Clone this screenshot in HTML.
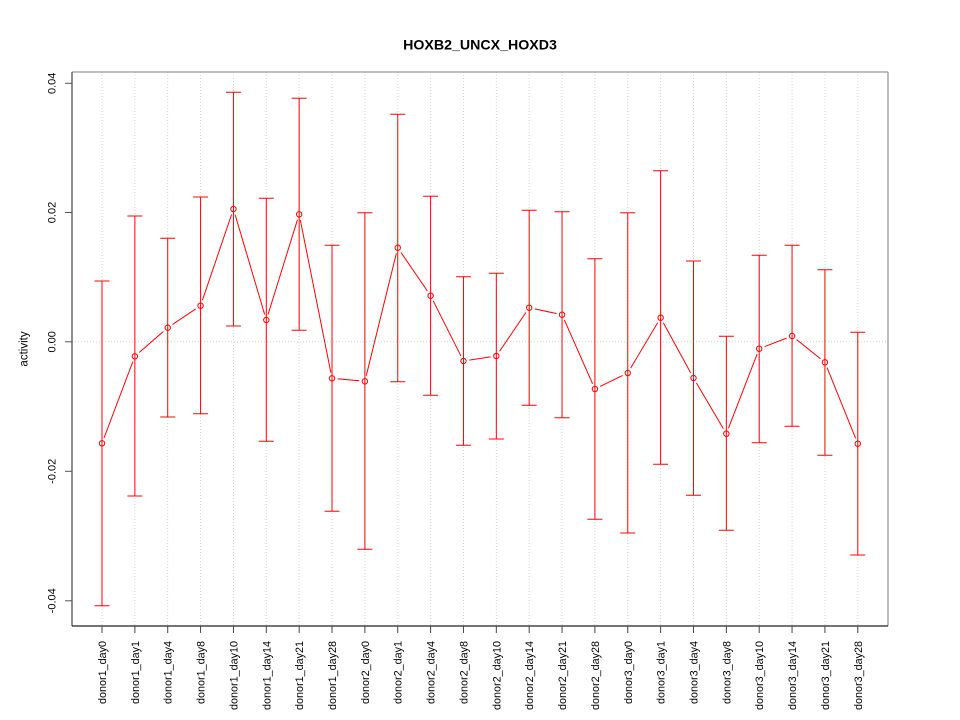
<!DOCTYPE html>
<html>
<head>
<meta charset="utf-8">
<style>
html,body{margin:0;padding:0;background:#fff;}
svg{display:block;}
text{font-family:"Liberation Sans", Arial, sans-serif;fill:#000;}
</style>
</head>
<body>
<svg width="960" height="720" viewBox="0 0 960 720" xmlns="http://www.w3.org/2000/svg">
<defs>
<mask id="gapmask" maskUnits="userSpaceOnUse" x="0" y="0" width="960" height="720">
<rect x="0" y="0" width="960" height="720" fill="#fff"/>
<g fill="#000">
<circle cx="102" cy="443.3" r="5.8"/>
<circle cx="134.86" cy="356.3" r="5.8"/>
<circle cx="167.72" cy="327.7" r="5.8"/>
<circle cx="200.58" cy="305.7" r="5.8"/>
<circle cx="233.44" cy="209" r="5.8"/>
<circle cx="266.3" cy="320" r="5.8"/>
<circle cx="299.16" cy="214.3" r="5.8"/>
<circle cx="332.02" cy="378.3" r="5.8"/>
<circle cx="364.88" cy="381.3" r="5.8"/>
<circle cx="397.74" cy="247.7" r="5.8"/>
<circle cx="430.6" cy="295.7" r="5.8"/>
<circle cx="463.46" cy="361" r="5.8"/>
<circle cx="496.32" cy="356" r="5.8"/>
<circle cx="529.18" cy="307.7" r="5.8"/>
<circle cx="562.04" cy="314.7" r="5.8"/>
<circle cx="594.9" cy="389" r="5.8"/>
<circle cx="627.76" cy="373" r="5.8"/>
<circle cx="660.62" cy="317.7" r="5.8"/>
<circle cx="693.48" cy="378" r="5.8"/>
<circle cx="726.34" cy="433.7" r="5.8"/>
<circle cx="759.2" cy="348.7" r="5.8"/>
<circle cx="792.06" cy="336" r="5.8"/>
<circle cx="824.92" cy="362.3" r="5.8"/>
<circle cx="857.78" cy="443.7" r="5.8"/>
</g>
</mask>
</defs>

<!-- grid -->
<g stroke="#d3d3d3" stroke-width="1" stroke-dasharray="1,2" fill="none">
<line x1="102" y1="72" x2="102" y2="626"/>
<line x1="134.86" y1="72" x2="134.86" y2="626"/>
<line x1="167.72" y1="72" x2="167.72" y2="626"/>
<line x1="200.58" y1="72" x2="200.58" y2="626"/>
<line x1="233.44" y1="72" x2="233.44" y2="626"/>
<line x1="266.3" y1="72" x2="266.3" y2="626"/>
<line x1="299.16" y1="72" x2="299.16" y2="626"/>
<line x1="332.02" y1="72" x2="332.02" y2="626"/>
<line x1="364.88" y1="72" x2="364.88" y2="626"/>
<line x1="397.74" y1="72" x2="397.74" y2="626"/>
<line x1="430.6" y1="72" x2="430.6" y2="626"/>
<line x1="463.46" y1="72" x2="463.46" y2="626"/>
<line x1="496.32" y1="72" x2="496.32" y2="626"/>
<line x1="529.18" y1="72" x2="529.18" y2="626"/>
<line x1="562.04" y1="72" x2="562.04" y2="626"/>
<line x1="594.9" y1="72" x2="594.9" y2="626"/>
<line x1="627.76" y1="72" x2="627.76" y2="626"/>
<line x1="660.62" y1="72" x2="660.62" y2="626"/>
<line x1="693.48" y1="72" x2="693.48" y2="626"/>
<line x1="726.34" y1="72" x2="726.34" y2="626"/>
<line x1="759.2" y1="72" x2="759.2" y2="626"/>
<line x1="792.06" y1="72" x2="792.06" y2="626"/>
<line x1="824.92" y1="72" x2="824.92" y2="626"/>
<line x1="857.78" y1="72" x2="857.78" y2="626"/>
<line x1="72" y1="341.8" x2="888" y2="341.8"/>
</g>

<!-- error bars -->
<g stroke="#ff0000" stroke-width="1" fill="none">
<path d="M102 281V605.7M94.5 281H109.5M94.5 605.7H109.5"/>
<path d="M134.86 216V496M127.36 216H142.36M127.36 496H142.36"/>
<path d="M167.72 238.3V417M160.22 238.3H175.22M160.22 417H175.22"/>
<path d="M200.58 197V413.7M193.08 197H208.08M193.08 413.7H208.08"/>
<path d="M233.44 92.3V326M225.94 92.3H240.94M225.94 326H240.94"/>
<path d="M266.3 198.3V441.3M258.8 198.3H273.8M258.8 441.3H273.8"/>
<path d="M299.16 98.3V330.3M291.66 98.3H306.66M291.66 330.3H306.66"/>
<path d="M332.02 245.3V511.3M324.52 245.3H339.52M324.52 511.3H339.52"/>
<path d="M364.88 212.7V549.3M357.38 212.7H372.38M357.38 549.3H372.38"/>
<path d="M397.74 114.3V381.7M390.24 114.3H405.24M390.24 381.7H405.24"/>
<path d="M430.6 196.3V395.3M423.1 196.3H438.1M423.1 395.3H438.1"/>
<path d="M463.46 276.7V445.3M455.96 276.7H470.96M455.96 445.3H470.96"/>
<path d="M496.32 273.3V439M488.82 273.3H503.82M488.82 439H503.82"/>
<path d="M529.18 210.3V405.3M521.68 210.3H536.68M521.68 405.3H536.68"/>
<path d="M562.04 211.7V417.7M554.54 211.7H569.54M554.54 417.7H569.54"/>
<path d="M594.9 258.7V519.3M587.4 258.7H602.4M587.4 519.3H602.4"/>
<path d="M627.76 212.7V533M620.26 212.7H635.26M620.26 533H635.26"/>
<path d="M660.62 170.7V464.3M653.12 170.7H668.12M653.12 464.3H668.12"/>
<path d="M693.48 261V495.3M685.98 261H700.98M685.98 495.3H700.98"/>
<path d="M726.34 336.3V530.3M718.84 336.3H733.84M718.84 530.3H733.84"/>
<path d="M759.2 255.3V442.7M751.7 255.3H766.7M751.7 442.7H766.7"/>
<path d="M792.06 245.3V426.3M784.56 245.3H799.56M784.56 426.3H799.56"/>
<path d="M824.92 269.7V455.3M817.42 269.7H832.42M817.42 455.3H832.42"/>
<path d="M857.78 332.3V555M850.28 332.3H865.28M850.28 555H865.28"/>
</g>

<!-- connecting line with gaps -->
<polyline mask="url(#gapmask)" fill="none" stroke="#ff0000" stroke-width="1"
points="102,443.3 134.86,356.3 167.72,327.7 200.58,305.7 233.44,209 266.3,320 299.16,214.3 332.02,378.3 364.88,381.3 397.74,247.7 430.6,295.7 463.46,361 496.32,356 529.18,307.7 562.04,314.7 594.9,389 627.76,373 660.62,317.7 693.48,378 726.34,433.7 759.2,348.7 792.06,336 824.92,362.3 857.78,443.7"/>

<!-- points -->
<g fill="none" stroke="#ff0000" stroke-width="1">
<circle cx="102" cy="443.3" r="2.7"/>
<circle cx="134.86" cy="356.3" r="2.7"/>
<circle cx="167.72" cy="327.7" r="2.7"/>
<circle cx="200.58" cy="305.7" r="2.7"/>
<circle cx="233.44" cy="209" r="2.7"/>
<circle cx="266.3" cy="320" r="2.7"/>
<circle cx="299.16" cy="214.3" r="2.7"/>
<circle cx="332.02" cy="378.3" r="2.7"/>
<circle cx="364.88" cy="381.3" r="2.7"/>
<circle cx="397.74" cy="247.7" r="2.7"/>
<circle cx="430.6" cy="295.7" r="2.7"/>
<circle cx="463.46" cy="361" r="2.7"/>
<circle cx="496.32" cy="356" r="2.7"/>
<circle cx="529.18" cy="307.7" r="2.7"/>
<circle cx="562.04" cy="314.7" r="2.7"/>
<circle cx="594.9" cy="389" r="2.7"/>
<circle cx="627.76" cy="373" r="2.7"/>
<circle cx="660.62" cy="317.7" r="2.7"/>
<circle cx="693.48" cy="378" r="2.7"/>
<circle cx="726.34" cy="433.7" r="2.7"/>
<circle cx="759.2" cy="348.7" r="2.7"/>
<circle cx="792.06" cy="336" r="2.7"/>
<circle cx="824.92" cy="362.3" r="2.7"/>
<circle cx="857.78" cy="443.7" r="2.7"/>
</g>

<!-- box -->
<line x1="72" y1="72" x2="888" y2="72" stroke="#999" stroke-width="1.3"/>
<line x1="888" y1="72" x2="888" y2="626" stroke="#999" stroke-width="1.3"/>
<line x1="72" y1="72" x2="72" y2="626" stroke="#444" stroke-width="1.2"/>
<line x1="72" y1="626" x2="888" y2="626" stroke="#222" stroke-width="1.2"/>

<!-- y ticks -->
<g stroke="#555" stroke-width="1">
<line x1="65" y1="83.3" x2="72" y2="83.3"/>
<line x1="65" y1="212.5" x2="72" y2="212.5"/>
<line x1="65" y1="341.8" x2="72" y2="341.8"/>
<line x1="65" y1="471.3" x2="72" y2="471.3"/>
<line x1="65" y1="600.8" x2="72" y2="600.8"/>
</g>
<g font-size="11" text-anchor="middle">
<text transform="translate(55.5,83.3) rotate(-90)">0.04</text>
<text transform="translate(55.5,212.5) rotate(-90)">0.02</text>
<text transform="translate(55.5,341.8) rotate(-90)">0.00</text>
<text transform="translate(55.5,471.3) rotate(-90)">-0.02</text>
<text transform="translate(55.5,600.8) rotate(-90)">-0.04</text>
</g>

<!-- x ticks -->
<g stroke="#444" stroke-width="1">
<line x1="102" y1="626" x2="102" y2="633"/>
<line x1="134.86" y1="626" x2="134.86" y2="633"/>
<line x1="167.72" y1="626" x2="167.72" y2="633"/>
<line x1="200.58" y1="626" x2="200.58" y2="633"/>
<line x1="233.44" y1="626" x2="233.44" y2="633"/>
<line x1="266.3" y1="626" x2="266.3" y2="633"/>
<line x1="299.16" y1="626" x2="299.16" y2="633"/>
<line x1="332.02" y1="626" x2="332.02" y2="633"/>
<line x1="364.88" y1="626" x2="364.88" y2="633"/>
<line x1="397.74" y1="626" x2="397.74" y2="633"/>
<line x1="430.6" y1="626" x2="430.6" y2="633"/>
<line x1="463.46" y1="626" x2="463.46" y2="633"/>
<line x1="496.32" y1="626" x2="496.32" y2="633"/>
<line x1="529.18" y1="626" x2="529.18" y2="633"/>
<line x1="562.04" y1="626" x2="562.04" y2="633"/>
<line x1="594.9" y1="626" x2="594.9" y2="633"/>
<line x1="627.76" y1="626" x2="627.76" y2="633"/>
<line x1="660.62" y1="626" x2="660.62" y2="633"/>
<line x1="693.48" y1="626" x2="693.48" y2="633"/>
<line x1="726.34" y1="626" x2="726.34" y2="633"/>
<line x1="759.2" y1="626" x2="759.2" y2="633"/>
<line x1="792.06" y1="626" x2="792.06" y2="633"/>
<line x1="824.92" y1="626" x2="824.92" y2="633"/>
<line x1="857.78" y1="626" x2="857.78" y2="633"/>
</g>
<g font-size="10.8" text-anchor="end">
<text transform="translate(106,641) rotate(-90)">donor1_day0</text>
<text transform="translate(138.86,641) rotate(-90)">donor1_day1</text>
<text transform="translate(171.72,641) rotate(-90)">donor1_day4</text>
<text transform="translate(204.58,641) rotate(-90)">donor1_day8</text>
<text transform="translate(237.44,641) rotate(-90)">donor1_day10</text>
<text transform="translate(270.3,641) rotate(-90)">donor1_day14</text>
<text transform="translate(303.16,641) rotate(-90)">donor1_day21</text>
<text transform="translate(336.02,641) rotate(-90)">donor1_day28</text>
<text transform="translate(368.88,641) rotate(-90)">donor2_day0</text>
<text transform="translate(401.74,641) rotate(-90)">donor2_day1</text>
<text transform="translate(434.6,641) rotate(-90)">donor2_day4</text>
<text transform="translate(467.46,641) rotate(-90)">donor2_day8</text>
<text transform="translate(500.32,641) rotate(-90)">donor2_day10</text>
<text transform="translate(533.18,641) rotate(-90)">donor2_day14</text>
<text transform="translate(566.04,641) rotate(-90)">donor2_day21</text>
<text transform="translate(598.9,641) rotate(-90)">donor2_day28</text>
<text transform="translate(631.76,641) rotate(-90)">donor3_day0</text>
<text transform="translate(664.62,641) rotate(-90)">donor3_day1</text>
<text transform="translate(697.48,641) rotate(-90)">donor3_day4</text>
<text transform="translate(730.34,641) rotate(-90)">donor3_day8</text>
<text transform="translate(763.2,641) rotate(-90)">donor3_day10</text>
<text transform="translate(796.06,641) rotate(-90)">donor3_day14</text>
<text transform="translate(828.92,641) rotate(-90)">donor3_day21</text>
<text transform="translate(861.78,641) rotate(-90)">donor3_day28</text>
</g>

<!-- axis title -->
<text font-size="11.5" text-anchor="middle" transform="translate(27.5,349) rotate(-90)">activity</text>

<!-- main title -->
<text x="480" y="49.3" font-size="14.2" font-weight="bold" text-anchor="middle">HOXB2_UNCX_HOXD3</text>
</svg>
</body>
</html>
